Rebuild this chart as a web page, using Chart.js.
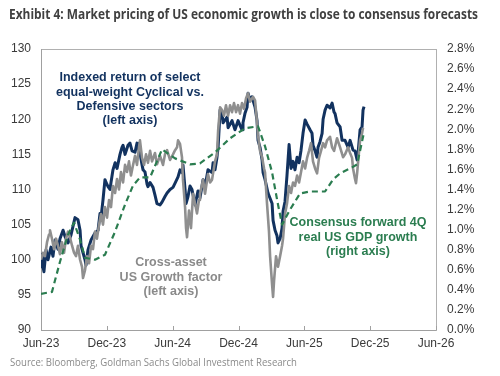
<!DOCTYPE html>
<html lang="en">
<head>
  <meta charset="UTF-8">
  <title>Exhibit 4</title>
  <script src="https://cdn.jsdelivr.net/npm/chart.js"></script>
  <style>
    html, body { margin: 0; padding: 0; background: #fff; }
    #wrap { width: 500px; height: 376px; }
  </style>
</head>
<body>
<div id="wrap"><canvas id="growthChart" width="500" height="376"></canvas></div>

<script>
  // x axis: months since Jun-23
  const xLabels = ['Jun-23', 'Dec-23', 'Jun-24', 'Dec-24', 'Jun-25', 'Dec-25', 'Jun-26'];

  // Indexed return of equal-weight Cyclical vs. Defensive (left axis)
  const cycMonths = [0,0.09,0.18,0.27,0.46,0.64,0.91,1.09,1.28,1.55,1.73,2.01,2.19,2.46,2.73,3.10,3.37,3.56,3.65,3.83,4.01,4.10,4.28,4.56,4.92,5.20,5.38,5.47,5.65,5.83,5.93,6.11,6.29,6.38,6.56,6.75,6.93,7.20,7.38,7.48,7.66,7.93,8.11,8.30,8.57,8.75,8.84,9.02,9.21,9.30,9.48,9.66,9.75,9.94,10.21,10.39,10.57,10.85,11.03,11.30,11.49,11.76,12.03,12.22,12.49,12.67,12.85,12.94,13.13,13.22,13.40,13.58,13.76,14.04,14.31,14.49,14.77,14.95,15.22,15.59,15.68,15.86,16.04,16.14,16.23,16.32,16.50,16.59,16.96,17.05,17.41,17.68,17.96,18.32,18.41,18.60,18.78,18.87,19.05,19.23,19.51,19.69,19.78,19.96,20.15,20.24,20.42,20.69,21.06,21.15,21.33,21.51,21.60,21.79,21.97,22.06,22.24,22.42,22.61,22.79,22.97,23.15,23.34,23.52,23.70,23.88,24.07,24.25,24.52,24.70,24.79,24.98,25.16,25.25,25.43,25.62,25.71,25.89,26.07,26.34,26.53,26.71,26.80,26.98,27.26,27.44,27.71,27.99,28.17,28.44,28.62,28.81,28.90,29.08,29.26,29.35,29.44];
  const cycValues = [99.0,100.8,99.0,98.3,101.4,100.0,101.8,100.5,102.8,101.5,103.0,104.2,103.3,102.4,103.5,106.0,105.7,104.2,102.0,101.0,100.0,99.2,101.4,102.8,103.8,104.2,106.6,106.0,108.5,111.4,111.0,110.4,110.0,111.0,112.8,113.8,113.0,115.0,116.0,116.3,115.0,116.3,116.6,115.5,115.3,116.6,116.0,115.2,113.5,112.8,112.5,110.8,110.4,111.0,110.3,109.2,108.0,107.8,108.2,109.0,109.5,110.0,110.3,110.9,111.8,112.8,112.4,113.5,110.0,108.0,109.0,110.5,110.0,107.8,109.8,108.8,111.4,110.4,112.8,112.4,113.8,112.8,114.6,116.0,118.5,121.3,120.8,119.5,120.3,118.8,119.8,118.5,119.8,118.5,119.5,120.9,121.7,123.7,122.7,123.2,121.7,119.8,117.0,116.0,114.2,112.4,111.4,109.5,108.0,105.6,104.2,103.4,102.4,103.0,104.5,106.9,108.3,112.0,116.4,113.0,114.0,112.8,114.6,113.8,115.6,118.0,119.9,119.3,118.5,118.0,116.3,115.5,114.6,116.0,116.8,118.0,120.0,121.3,122.0,121.6,122.3,121.0,120.8,119.5,118.9,117.0,117.0,116.0,117.0,115.6,115.5,114.2,115.2,118.5,118.9,121.3,121.8];

  // Cross-asset US Growth factor (left axis)
  const growthMonths = [0,0.18,0.36,0.55,0.73,0.82,1.00,1.19,1.37,1.55,1.73,1.91,2.10,2.28,2.46,2.64,2.83,3.01,3.19,3.37,3.56,3.74,3.83,4.01,4.19,4.38,4.56,4.74,4.92,5.10,5.29,5.47,5.65,5.83,6.02,6.20,6.38,6.56,6.75,6.93,7.11,7.29,7.48,7.66,7.84,8.02,8.20,8.39,8.57,8.75,8.93,9.02,9.21,9.39,9.57,9.75,9.94,10.12,10.39,10.57,10.85,11.12,11.30,11.49,11.76,12.03,12.22,12.40,12.49,12.67,12.85,12.94,13.13,13.22,13.31,13.49,13.67,13.86,14.04,14.22,14.40,14.49,14.77,14.95,15.22,15.41,15.59,15.86,16.04,16.14,16.32,16.50,16.68,16.86,17.05,17.23,17.41,17.59,17.78,17.96,18.14,18.32,18.50,18.69,18.87,19.05,19.33,19.51,19.69,19.78,19.96,20.15,20.33,20.42,20.60,20.78,20.88,21.06,21.15,21.24,21.42,21.51,21.60,21.79,21.97,22.06,22.24,22.42,22.61,22.79,22.97,23.15,23.34,23.52,23.70,23.88,24.07,24.25,24.43,24.61,24.79,24.98,25.16,25.34,25.52,25.71,25.89,26.07,26.34,26.53,26.71,26.98,27.26,27.53,27.71,27.99,28.17,28.35,28.44,28.62,28.71,28.81,28.99,29.08,29.26,29.35];
  const growthValues = [100.0,101.0,100.5,102.5,103.6,104.2,103.0,101.5,103.0,102.0,100.8,102.5,101.0,103.0,104.0,103.2,102.0,101.0,100.5,102.0,100.0,99.0,97.4,98.5,100.5,99.5,102.0,101.5,104.0,103.0,105.0,106.5,105.0,107.5,106.0,108.5,107.5,110.5,109.5,111.5,110.0,112.5,111.0,113.5,112.5,114.0,112.0,113.5,114.8,113.5,116.0,117.0,114.5,113.5,115.0,113.8,115.5,114.0,115.2,113.6,114.8,113.5,115.0,115.6,114.2,115.0,115.6,116.0,117.0,116.5,114.6,111.4,107.5,104.5,103.2,107.0,104.5,109.4,108.0,106.6,108.5,109.4,111.4,109.4,112.2,111.0,111.4,114.0,115.0,118.3,121.7,121.3,120.5,122.0,120.5,122.0,121.0,122.3,121.0,122.0,120.8,122.3,121.5,123.0,123.7,122.5,123.2,122.7,119.5,117.7,115.5,114.6,113.0,112.4,108.0,104.0,100.5,96.5,94.7,97.0,100.5,99.8,99.0,100.5,102.0,103.0,106.5,108.0,110.5,109.5,111.0,110.5,112.0,111.0,112.5,114.0,113.0,114.5,115.5,116.6,114.0,113.0,112.3,114.5,115.5,116.6,116.0,117.0,117.5,116.0,115.5,117.3,116.0,114.6,115.0,116.0,115.2,114.5,113.0,111.5,110.9,112.3,115.5,117.0,118.0,118.8];

  // Consensus forward 4Q real US GDP growth, % (right axis)
  const gdpMonths = [0,1.00,1.73,2.46,3.01,3.56,4.01,4.92,5.83,6.75,7.66,8.39,9.02,9.94,11.03,12.22,13.58,14.49,15.86,17.23,18.60,19.78,20.42,21.06,21.60,21.97,22.70,23.61,24.52,25.89,26.62,27.26,28.35,28.81,29.44];
  const gdpValues = [0.36,0.38,0.68,0.95,1.07,0.90,0.72,0.70,0.75,0.98,1.25,1.44,1.52,1.52,1.80,1.71,1.65,1.66,1.77,1.91,2.01,2.03,1.83,1.57,1.25,1.05,1.20,1.36,1.38,1.38,1.50,1.56,1.62,1.65,1.97];

  const toPoints = (xs, ys) => xs.map((x, i) => ({ x: x, y: ys[i] }));

  const NAVY = '#12325f';
  const GREY = '#8f8f8f';
  const GREEN = '#2b7d50';
  const AXIS = '#a0a0a0';
  const TEXT = '#3a3a3a';

  // title, source, in-chart labels and inward x ticks
  const extras = {
    id: 'extras',
    afterDraw(chart) {
      const ctx = chart.ctx;
      const area = chart.chartArea;
      ctx.save();

      // small inward ticks on the x axis
      const xs = chart.scales.x;
      ctx.strokeStyle = AXIS;
      ctx.lineWidth = 1;
      xs.ticks.forEach(t => {
        const px = Math.round(xs.getPixelForValue(t.value)) + 0.5;
        ctx.beginPath();
        ctx.moveTo(px, area.bottom);
        ctx.lineTo(px, area.bottom - 4);
        ctx.stroke();
      });

      // fit a line of text into a given width
      function fitText(str, x, y, width, font, color) {
        ctx.font = font;
        ctx.fillStyle = color;
        ctx.textAlign = 'left';
        ctx.textBaseline = 'alphabetic';
        const w = ctx.measureText(str).width;
        ctx.save();
        ctx.translate(x, y);
        ctx.scale(width / w, 1);
        ctx.fillText(str, 0, 0);
        ctx.restore();
      }
      fitText('Exhibit 4: Market pricing of US economic growth is close to consensus forecasts',
        9, 19, 469, 'bold 14.5px "Open Sans", sans-serif', '#404040');
      fitText('Source: Bloomberg, Goldman Sachs Global Investment Research',
        10, 366, 287, '11.5px "Open Sans", sans-serif', '#8a8a8a');

      function block(lines, cx, y0, color) {
        ctx.font = 'bold 12.5px "Liberation Sans", Arial, sans-serif';
        ctx.fillStyle = color;
        ctx.textAlign = 'center';
        ctx.textBaseline = 'middle';
        lines.forEach((l, i) => ctx.fillText(l, cx, y0 + i * 14.3));
      }
      block(['Indexed return of select', 'equal-weight Cyclical vs.', 'Defensive sectors', '(left axis)'], 130, 78, NAVY);
      block(['Cross-asset', 'US Growth factor', '(left axis)'], 171, 263, '#8a8a8a');
      block(['Consensus forward 4Q', 'real US GDP growth', '(right axis)'], 358, 223, GREEN);

      ctx.restore();
    }
  };

  const ctx = document.getElementById('growthChart').getContext('2d');
  new Chart(ctx, {
    type: 'line',
    data: {
      datasets: [
        {
          label: 'Consensus forward 4Q real US GDP growth (right axis)',
          data: toPoints(gdpMonths, gdpValues),
          yAxisID: 'yRight',
          borderColor: GREEN,
          borderWidth: 2.2,
          borderDash: [6, 4],
          order: 0
        },
        {
          label: 'Cross-asset US Growth factor (left axis)',
          data: toPoints(growthMonths, growthValues),
          yAxisID: 'yLeft',
          borderColor: GREY,
          borderWidth: 2.6,
          order: 1
        },
        {
          label: 'Indexed return of select equal-weight Cyclical vs. Defensive sectors (left axis)',
          data: toPoints(cycMonths, cycValues),
          yAxisID: 'yLeft',
          borderColor: NAVY,
          borderWidth: 3,
          order: 2
        }
      ]
    },
    options: {
      responsive: false,
      animation: false,
      layout: { padding: { top: 49, left: 0, right: 0, bottom: 0 } },
      elements: { point: { radius: 0 }, line: { tension: 0, borderJoinStyle: 'round' } },
      plugins: {
        legend: { display: false },
        tooltip: { enabled: false }
      },
      scales: {
        x: {
          type: 'linear',
          min: 0,
          max: 36,
          afterFit: s => { s.height = 46; },
          ticks: {
            stepSize: 6,
            padding: 6,
            color: TEXT,
            font: { family: '"Liberation Sans", Arial, sans-serif', size: 12 },
            maxRotation: 0,
            callback: v => xLabels[v / 6]
          },
          grid: { display: false, drawTicks: false },
          border: { display: true, color: AXIS, width: 1 }
        },
        xTop: {
          type: 'linear',
          position: 'top',
          min: 0,
          max: 36,
          afterFit: s => { s.height = 0; },
          ticks: { display: false },
          grid: { display: false, drawTicks: false },
          border: { display: true, color: '#b0b0b0', width: 1 }
        },
        yLeft: {
          position: 'left',
          min: 90,
          max: 130,
          afterFit: s => { s.width = 41; },
          ticks: {
            stepSize: 5,
            padding: 10,
            color: TEXT,
            font: { family: '"Liberation Sans", Arial, sans-serif', size: 12 }
          },
          grid: { display: false, drawTicks: false },
          border: { display: true, color: AXIS, width: 1 }
        },
        yRight: {
          position: 'right',
          min: 0,
          max: 2.8,
          afterFit: s => { s.width = 64; },
          ticks: {
            stepSize: 0.2,
            padding: 11,
            color: TEXT,
            font: { family: '"Liberation Sans", Arial, sans-serif', size: 12 },
            callback: v => v.toFixed(1) + '%'
          },
          grid: { display: false, drawTicks: false },
          border: { display: true, color: '#b0b0b0', width: 1 }
        }
      }
    },
    plugins: [extras]
  });
</script>
</body>
</html>
